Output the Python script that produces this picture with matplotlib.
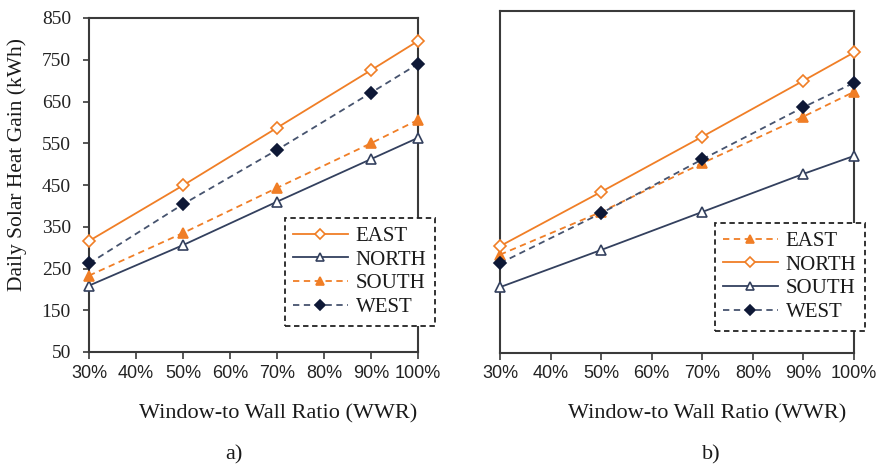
import matplotlib
matplotlib.use("Agg")
import matplotlib.pyplot as plt
from matplotlib import font_manager
from matplotlib.lines import Line2D

# Window-to-wall ratios at which the heat gain was computed
wwr = [0.30, 0.50, 0.70, 0.90, 1.00]

# a) daily solar heat gain (kWh)
east_a = [316, 449, 587, 725, 795]
north_a = [209, 306, 410, 512, 563]
south_a = [233, 335, 443, 550, 606]
west_a = [262, 404, 534, 671, 740]

# b) daily solar heat gain (kWh)
east_b = [280, 380, 494, 603, 661]
north_b = [300, 427, 556, 687, 753]
south_b = [204, 291, 380, 469, 511]
west_b = [260, 377, 503, 625, 682]

x_ticks = [0.3, 0.4, 0.5, 0.6, 0.7, 0.8, 0.9, 1.0]
x_ticklabels = ["30%", "40%", "50%", "60%", "70%", "80%", "90%", "100%"]
y_ticks = [50, 150, 250, 350, 450, 550, 650, 750, 850]

ORANGE = "#F07E26"
NAVY = "#33405E"
NAVY_DASH = "#46536E"
NAVY_FILL = "#0E1836"
SPINE = "#3A3A3A"

SERIF = "Liberation Serif"
available = {f.name for f in font_manager.fontManager.ttflist}
if "Liberation Sans Narrow" in available:
    TICK_FONT, TICK_SIZE = "Liberation Sans Narrow", 15
else:
    TICK_FONT, TICK_SIZE = "Liberation Sans", 13

W, H = 881, 466
fig = plt.figure(figsize=(W / 100, H / 100), dpi=100)
fig.patch.set_facecolor("white")


def px_axes(left, top, right, bottom):
    return fig.add_axes([left / W, 1 - bottom / H, (right - left) / W, (bottom - top) / H])


def style(name):
    """Line/marker style for each series kind."""
    styles = {
        "solid_diamond": dict(color=ORANGE, ls="-", marker="D", mfc="white", mec=ORANGE),
        "solid_triangle": dict(color=NAVY, ls="-", marker="^", mfc="white", mec=NAVY),
        "dash_triangle": dict(color=ORANGE, ls=(0, (3.5, 2.5)), marker="^", mfc=ORANGE, mec=ORANGE),
        "dash_diamond": dict(color=NAVY_DASH, ls=(0, (3.5, 2.5)), marker="D", mfc=NAVY_FILL, mec=NAVY_FILL),
    }
    s = dict(styles[name])
    s.update(lw=1.3, ms=7.5 if s["marker"] == "^" else 6.5, mew=1.2)
    return s


def setup(ax, show_y):
    ax.set_xlim(0.3, 1.0)
    ax.set_ylim(50, 850)
    ax.set_xticks(x_ticks)
    ax.set_xticklabels(x_ticklabels, fontfamily=TICK_FONT, fontsize=TICK_SIZE, color="#222222")
    ax.set_yticks(y_ticks)
    if show_y:
        ax.set_yticklabels([str(v) for v in y_ticks], fontfamily=SERIF, fontsize=14, color="#222222")
        ax.tick_params(axis="y", direction="out", length=4, width=1.2, color=SPINE, pad=9)
    else:
        ax.tick_params(axis="y", left=False, labelleft=False)
    ax.tick_params(axis="x", direction="out", length=5, width=1.2, color=SPINE, pad=4)
    for sp in ax.spines.values():
        sp.set_color(SPINE)
        sp.set_linewidth(1.5)
    ax.set_facecolor("white")


def add_legend(ax, series, left, top):
    handles = [Line2D([], [], **style(kind)) for _, kind in series]
    labels = [name for name, _ in series]
    leg = ax.legend(handles, labels, loc="upper left",
                    bbox_to_anchor=(left / W, 1 - top / H), bbox_transform=fig.transFigure,
                    prop=dict(family=SERIF, size=15), handlelength=2.6, handletextpad=0.4,
                    labelspacing=0.2, borderpad=0.4, borderaxespad=0, frameon=True,
                    fancybox=False, framealpha=1, markerscale=0.75)
    fr = leg.get_frame()
    fr.set_edgecolor("#222222")
    fr.set_linestyle((0, (3, 2)))
    fr.set_linewidth(1.3)
    fr.set_facecolor("white")
    for t in leg.get_texts():
        t.set_color("#1a1a1a")
    leg.set_zorder(10)


# ---- panel a ----
ax1 = px_axes(89, 18, 418, 352)
setup(ax1, True)
series_a = [("EAST", east_a, "solid_diamond"), ("NORTH", north_a, "solid_triangle"),
            ("SOUTH", south_a, "dash_triangle"), ("WEST", west_a, "dash_diamond")]
for name, vals, kind in series_a:
    ax1.plot(wwr, vals, clip_on=False, zorder=4, **style(kind))
add_legend(ax1, [(n, k) for n, _, k in series_a], 285, 218)

# ---- panel b ----
ax2 = px_axes(500, 11, 854, 353)
setup(ax2, False)
series_b = [("EAST", east_b, "dash_triangle"), ("NORTH", north_b, "solid_diamond"),
            ("SOUTH", south_b, "solid_triangle"), ("WEST", west_b, "dash_diamond")]
for name, vals, kind in series_b:
    ax2.plot(wwr, vals, clip_on=False, zorder=4, **style(kind))
add_legend(ax2, [(n, k) for n, _, k in series_b], 715, 223)

# ---- axis titles and panel tags ----
fig.text(17 / W, 1 - 165 / H, "Daily Solar Heat Gain (kWh)", rotation=90,
         ha="center", va="center", fontfamily=SERIF, fontsize=15.5, color="#1a1a1a")
fig.text(278 / W, 1 - 414 / H, "Window-to Wall Ratio (WWR)", ha="center", va="center",
         fontfamily=SERIF, fontsize=16, color="#1a1a1a")
fig.text(707 / W, 1 - 414 / H, "Window-to Wall Ratio (WWR)", ha="center", va="center",
         fontfamily=SERIF, fontsize=16, color="#1a1a1a")
fig.text(234 / W, 1 - 455 / H, "a)", ha="center", va="center",
         fontfamily=SERIF, fontsize=16, color="#1a1a1a")
fig.text(711 / W, 1 - 455 / H, "b)", ha="center", va="center",
         fontfamily=SERIF, fontsize=16, color="#1a1a1a")

fig.savefig("out.png", dpi=100, facecolor="white")
